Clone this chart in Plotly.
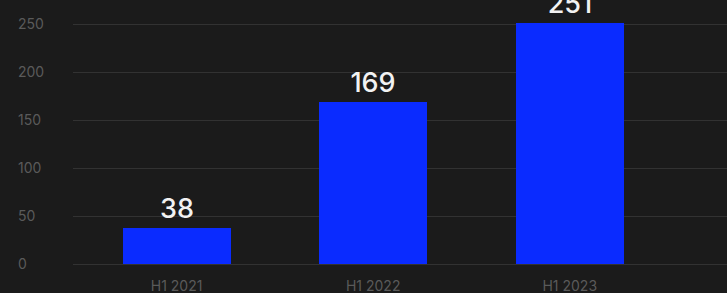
import plotly.graph_objects as go

categories = ["H1 2021", "H1 2022", "H1 2023"]
values = [38, 169, 251]
y_ticks = [0, 50, 100, 150, 200, 250]

fig = go.Figure()
fig.add_trace(go.Bar(
    x=categories,
    y=values,
    width=0.55,
    marker=dict(color="#0A2BFF", line=dict(width=0)),
    text=[str(v) for v in values],
    textposition="outside",
    textfont=dict(family="Inter, Roboto, sans-serif", size=27, color="#F2F2F2", weight=500),
    cliponaxis=False,
))

# 0.96 px per unit; zero at y=264, top at y=0
fig.update_layout(
    width=727,
    height=293,
    margin=dict(l=73, r=0, t=0, b=19),
    paper_bgcolor="#1B1B1B",
    plot_bgcolor="#1B1B1B",
    showlegend=False,
    bargap=0,
)
fig.update_xaxes(
    range=[-0.527, 2.80],
    showgrid=False,
    zeroline=False,
    showline=False,
    ticks="",
    tickfont=dict(family="Inter, Roboto, sans-serif", size=14, color="#5A5A5A"),
    ticklabelstandoff=2,
)
fig.update_yaxes(
    range=[-10.4, 275],
    tickvals=y_ticks,
    showgrid=True,
    gridcolor="#323232",
    gridwidth=1,
    zeroline=False,
    showline=False,
    ticks="",
    ticklabelposition="inside",
    ticklabelstandoff=-58,
    tickfont=dict(family="Inter, Roboto, sans-serif", size=14, color="#5A5A5A"),
)

fig.write_html(
    "out.html",
    config={"displayModeBar": False},
    post_script="document.body.style.margin='0';document.body.style.background='#1B1B1B';",
)
